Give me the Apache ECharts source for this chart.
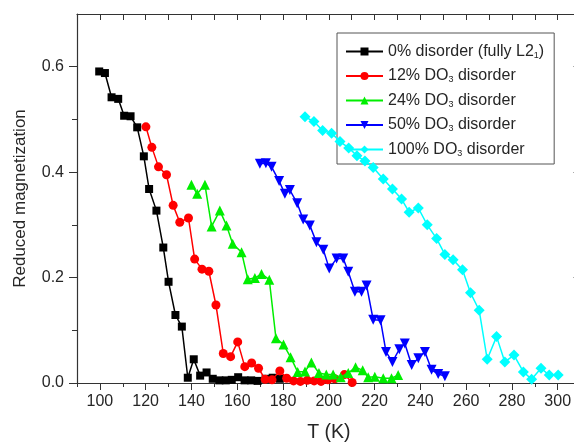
<!DOCTYPE html>
<html>
<head>
<meta charset="utf-8">
<script src="https://cdn.jsdelivr.net/npm/echarts@6/dist/echarts.min.js"></script>
<style>
  html, body { margin: 0; padding: 0; background: #ffffff; overflow: hidden; }
  #chart { width: 574px; height: 443px; }
</style>
</head>
<body>
<div id="chart"></div>
<script>
// Reduced magnetization vs temperature for different DO3 disorder levels
const seriesNames = [
  '0% disorder (fully L2\u2081)',
  '12% DO\u2083 disorder',
  '24% DO\u2083 disorder',
  '50% DO\u2083 disorder',
  '100% DO\u2083 disorder'
];
const legendLabels = [
  '0% disorder (fully L2{s|1})',
  '12% DO{s|3} disorder',
  '24% DO{s|3} disorder',
  '50% DO{s|3} disorder',
  '100% DO{s|3} disorder'
];

const tempL21 = [99.7, 102.2, 105.1, 108, 110.6, 113.4, 116.3, 119.2, 121.5, 124.7, 127.7, 130, 133, 135.8, 138.4, 141, 143.8, 146.6, 149.3, 152.2, 155, 157.6, 160.4, 163.2, 166.1, 168.9, 172.4, 175.5, 178.6];
const magL21 = [0.591, 0.588, 0.542, 0.539, 0.507, 0.506, 0.485, 0.43, 0.368, 0.327, 0.257, 0.192, 0.129, 0.107, 0.010, 0.045, 0.014, 0.020, 0.008, 0.005, 0.005, 0.006, 0.011, 0.005, 0.005, 0.004, 0.008, 0.010, 0.008];

const temp12 = [120.1, 122.7, 125.6, 129.1, 132, 134.9, 138.7, 141.4, 144.6, 147.6, 150.7, 153.9, 157.1, 160.2, 163.3, 166.3, 169.3, 172.2, 175.2, 178.6, 181.6, 184.6, 187.6, 190.6, 193.6, 196.6, 199.6, 202.6, 206.8, 210.2];
const mag12 = [0.486, 0.447, 0.41, 0.395, 0.337, 0.305, 0.313, 0.235, 0.216, 0.212, 0.148, 0.056, 0.05, 0.078, 0.031, 0.038, 0.028, 0.007, 0.006, 0.023, 0.009, 0.004, 0.003, 0.005, 0.004, 0.003, 0.006, 0.008, 0.016, 0.001];

const temp24 = [140, 142.5, 145.9, 148.8, 152.4, 155.3, 158, 161.9, 164.6, 167.7, 170.6, 174, 176.9, 180.2, 183.3, 186.4, 189.6, 192.4, 195.7, 198.9, 201.9, 205.2, 208.5, 211.7, 214.8, 217.2, 220.1, 223.8, 227.4, 230.3];
const mag24 = [0.376, 0.359, 0.376, 0.297, 0.327, 0.299, 0.264, 0.248, 0.197, 0.199, 0.207, 0.196, 0.085, 0.073, 0.049, 0.021, 0.022, 0.039, 0.019, 0.016, 0.016, 0.011, 0.019, 0.030, 0.024, 0.011, 0.012, 0.009, 0.009, 0.015];

const temp50 = [169.9, 172.5, 175, 178.3, 180.8, 183, 186.2, 188.8, 191.7, 194.6, 197.6, 200.2, 203.4, 206.3, 208.5, 211.4, 214.3, 216.5, 219.4, 222.6, 225.0, 227.8, 230.8, 233.2, 236.2, 239.1, 242, 244.9, 247.8, 250.7];
const mag50 = [0.416, 0.417, 0.41, 0.383, 0.359, 0.366, 0.341, 0.31, 0.299, 0.267, 0.253, 0.217, 0.236, 0.236, 0.211, 0.173, 0.173, 0.185, 0.12, 0.119, 0.059, 0.04, 0.064, 0.075, 0.034, 0.047, 0.059, 0.025, 0.017, 0.013];

const temp100 = [189.6, 193.5, 197.3, 201.2, 204.9, 208.7, 212.3, 215.8, 219.4, 223.8, 227.8, 231.8, 235.1, 239.1, 243, 247.1, 250.7, 254.3, 258.4, 261.9, 265.7, 269.2, 273.3, 276.9, 280.9, 285, 288.6, 292.7, 296.3, 300.2];
const mag100 = [0.505, 0.496, 0.479, 0.474, 0.458, 0.446, 0.431, 0.421, 0.409, 0.387, 0.368, 0.349, 0.324, 0.332, 0.3, 0.274, 0.244, 0.234, 0.215, 0.171, 0.138, 0.045, 0.088, 0.04, 0.053, 0.021, 0.007, 0.028, 0.015, 0.015];

// axis ranges and tick positions
const xRange = [90, 310];
const xMajorTicks = [100, 120, 140, 160, 180, 200, 220, 240, 260, 280, 300];
const xMinorTicks = [90, 110, 130, 150, 170, 190, 210, 230, 250, 270, 290, 310];
const yRange = [0, 0.7];
const yMajorTicks = [0, 0.2, 0.4, 0.6];
const yMinorTicks = [0.1, 0.3, 0.5];

const zip = (t, m) => t.map((v, i) => [v, m[i]]);

const seriesDefs = [
  { t: tempL21, m: magL21, color: '#000000', symbol: 'rect', size: 8, rotate: 0 },
  { t: temp12, m: mag12, color: '#ff0000', symbol: 'circle', size: 9, rotate: 0 },
  { t: temp24, m: mag24, color: '#00ee00', symbol: 'triangle', size: 10, rotate: 0 },
  { t: temp50, m: mag50, color: '#0000ff', symbol: 'triangle', size: 10, rotate: 180 },
  { t: temp100, m: mag100, color: '#00ffff', symbol: 'diamond', size: 11, rotate: 0 }
];

const FONT = 'Liberation Sans, Arial, sans-serif';
const TEXT = '#262626';
const AXIS = '#333333';

const chart = echarts.init(document.getElementById('chart'), null, { renderer: 'canvas' });

// plot frame runs slightly past the right edge of the canvas
const grid = { left: 77, top: 14, width: 503.6, height: 369, outerBoundsMode: 'none' };

const hidden = { show: false };

chart.setOption({
  animation: false,
  backgroundColor: '#ffffff',
  grid: grid,
  legend: {
    orient: 'vertical',
    left: 337,
    top: 33,
    align: 'left',
    itemWidth: 37,
    itemHeight: 10,
    itemGap: 5.5,
    padding: [8, 10, 6, 8],
    backgroundColor: '#ffffff',
    borderColor: '#555555',
    borderWidth: 1,
    borderRadius: 0,
    data: seriesNames,
    formatter: name => legendLabels[seriesNames.indexOf(name)],
    textStyle: {
      fontFamily: FONT,
      fontSize: 16,
      color: TEXT,
      lineHeight: 17,
      rich: {
        s: { fontFamily: FONT, fontSize: 9, color: TEXT, verticalAlign: 'bottom', lineHeight: 9, padding: [10, 0, 0, 0] }
      }
    }
  },
  xAxis: [
    {
      type: 'value',
      position: 'bottom',
      min: xRange[0],
      max: xRange[1],
      name: 'T (K)',
      nameLocation: 'middle',
      nameGap: 40,
      nameTextStyle: { fontFamily: FONT, fontSize: 19.5, color: TEXT },
      axisLine: { show: true, onZero: false, lineStyle: { color: AXIS, width: 1.2 } },
      axisTick: { show: true, inside: false, length: 7, customValues: xMajorTicks, lineStyle: { color: AXIS, width: 1 } },
      axisLabel: {
        fontFamily: FONT, fontSize: 16, color: TEXT, margin: 11,
        customValues: xMajorTicks,
        formatter: v => String(v)
      },
      splitLine: hidden
    },
    {
      type: 'value',
      position: 'bottom',
      min: xRange[0],
      max: xRange[1],
      axisLine: hidden,
      axisTick: { show: true, inside: false, length: 4, customValues: xMinorTicks, lineStyle: { color: AXIS, width: 1 } },
      axisLabel: hidden,
      splitLine: hidden
    },
    {
      type: 'value',
      position: 'top',
      min: xRange[0],
      max: xRange[1],
      axisLine: { show: true, onZero: false, lineStyle: { color: AXIS, width: 1.2 } },
      axisTick: { show: true, inside: true, length: 6, customValues: xMajorTicks.concat(xMinorTicks), lineStyle: { color: AXIS, width: 1 } },
      axisLabel: hidden,
      splitLine: hidden
    }
  ],
  yAxis: [
    {
      type: 'value',
      position: 'left',
      min: yRange[0],
      max: yRange[1],
      name: 'Reduced magnetization',
      nameLocation: 'middle',
      nameGap: 48,
      nameTextStyle: { fontFamily: FONT, fontSize: 17, color: TEXT },
      axisLine: { show: true, onZero: false, lineStyle: { color: AXIS, width: 1.2 } },
      axisTick: { show: true, inside: false, length: 8, customValues: yMajorTicks, lineStyle: { color: AXIS, width: 1 } },
      axisLabel: {
        fontFamily: FONT, fontSize: 16, color: TEXT, margin: 13,
        customValues: yMajorTicks,
        formatter: v => v.toFixed(1)
      },
      splitLine: hidden
    },
    {
      type: 'value',
      position: 'left',
      min: yRange[0],
      max: yRange[1],
      axisLine: hidden,
      axisTick: { show: true, inside: false, length: 5, customValues: yMinorTicks, lineStyle: { color: AXIS, width: 1 } },
      axisLabel: hidden,
      splitLine: hidden
    },
    {
      type: 'value',
      position: 'right',
      min: yRange[0],
      max: yRange[1],
      axisLine: { show: true, onZero: false, lineStyle: { color: AXIS, width: 1.2 } },
      axisTick: { show: true, inside: true, length: 7, customValues: yMajorTicks, lineStyle: { color: AXIS, width: 1 } },
      axisLabel: hidden,
      splitLine: hidden
    }
  ],
  series: seriesDefs.map((d, i) => ({
    name: seriesNames[i],
    type: 'line',
    xAxisIndex: 0,
    yAxisIndex: 0,
    data: zip(d.t, d.m),
    symbol: d.symbol,
    symbolSize: d.size,
    symbolRotate: d.rotate,
    showAllSymbol: true,
    color: d.color,
    lineStyle: { color: d.color, width: 1.5 },
    itemStyle: { color: d.color, borderWidth: 0 },
    z: 2 + i
  }))
});
</script>
</body>
</html>
